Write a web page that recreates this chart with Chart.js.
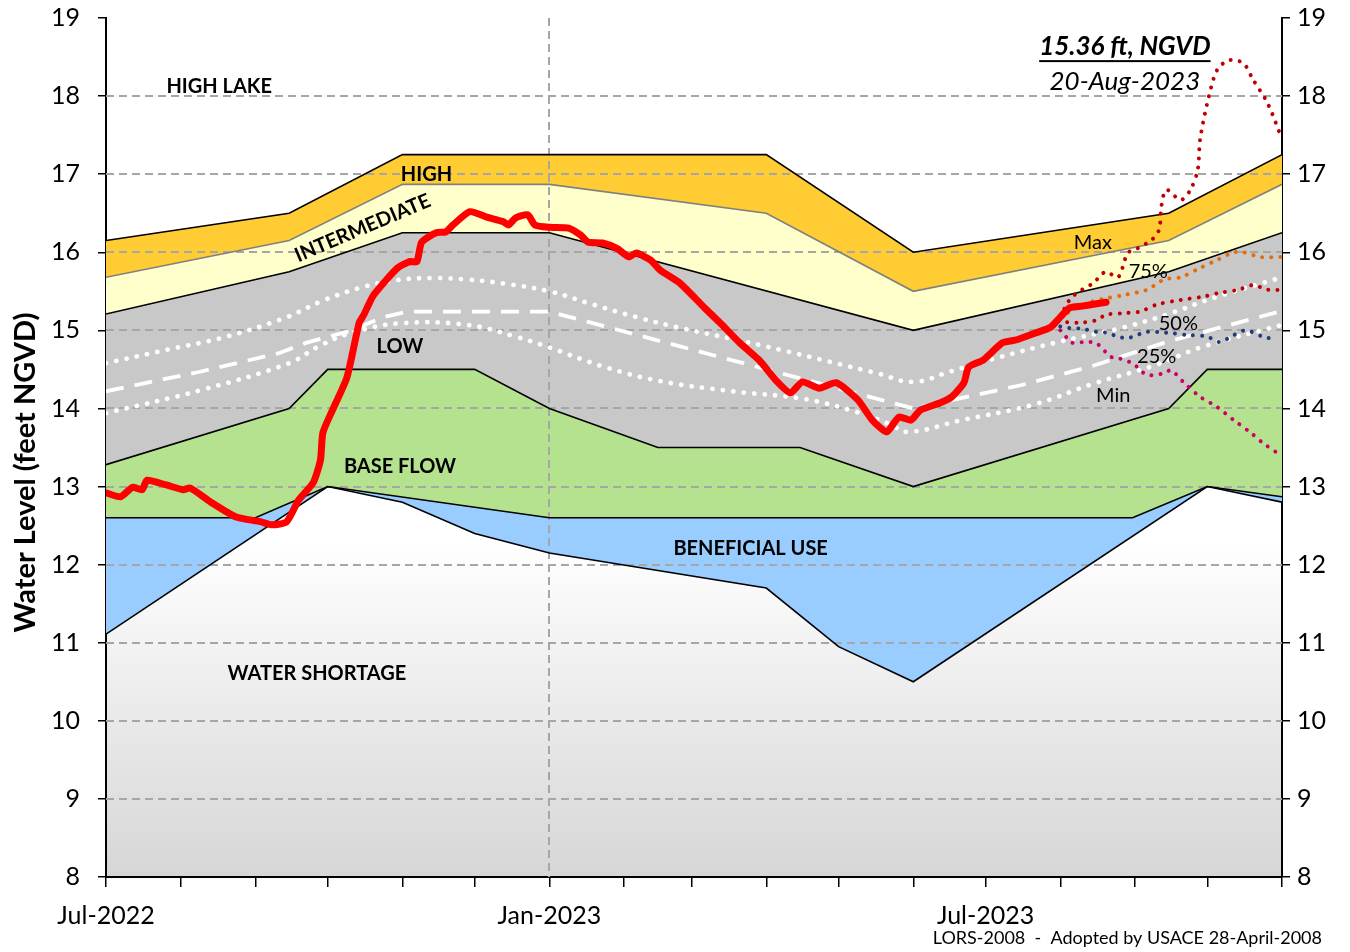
<!DOCTYPE html>
<html>
<head>
<meta charset="utf-8">
<title>Lake Okeechobee Water Level</title>
<script src="https://cdn.jsdelivr.net/npm/chart.js@4.4.0/dist/chart.umd.min.js"></script>
<style>
  html, body { margin: 0; padding: 0; background: #fff; }
  #wrap { width: 1350px; height: 952px; }
</style>
</head>
<body>
<div id="wrap"><canvas id="chart" width="1350" height="952"></canvas></div>
<script>
// x values are days counted from 1-Jul-2022
const monthTicks = [0, 31, 62, 92, 123, 153, 184, 215, 243, 274, 304, 335, 365, 396, 427, 457, 488];
const monthLabels = { 0: 'Jul-2022', 184: 'Jan-2023', 365: 'Jul-2023' };
const levelTicks = [8, 9, 10, 11, 12, 13, 14, 15, 16, 17, 18, 19];

// LORS-2008 zone boundaries (top edge of each zone)
const highTopDays = [0, 76, 123, 274, 335, 441, 488];
const highTopLevels = [16.15, 16.5, 17.25, 17.25, 16.0, 16.5, 17.25];
const intTopDays = [0, 76, 123, 184, 274, 335, 441, 488];
const intTopLevels = [15.68, 16.15, 16.87, 16.87, 16.5, 15.5, 16.15, 16.87];
const lowTopDays = [0, 76, 123, 184, 335, 441, 488];
const lowTopLevels = [15.21, 15.75, 16.25, 16.25, 15.0, 15.75, 16.25];
const baseTopDays = [0, 76, 92, 153, 184, 229, 288, 335, 441, 457, 488];
const baseTopLevels = [13.28, 14.0, 14.5, 14.5, 14.0, 13.5, 13.5, 13.0, 14.0, 14.5, 14.5];
const benTopDays = [0, 62, 92, 184, 426, 457, 488];
const benTopLevels = [12.6, 12.6, 13.0, 12.6, 12.6, 13.0, 12.87];
const shortTopDays = [0, 92, 123, 153, 184, 274, 304, 335, 457, 488];
const shortTopLevels = [11.11, 13.0, 12.8, 12.4, 12.15, 11.7, 10.95, 10.5, 13.0, 12.8];

// historical envelope lines inside the LOW zone
const upperDays = [0, 25, 50, 75, 90, 105, 120, 135, 150, 165, 184, 200, 220, 240, 260, 280, 300, 320, 335, 350, 370, 395, 420, 440, 460, 488];
const upperLevels = [14.58, 14.75, 14.92, 15.17, 15.38, 15.54, 15.64, 15.67, 15.65, 15.6, 15.5, 15.35, 15.17, 15.02, 14.89, 14.75, 14.6, 14.45, 14.34, 14.47, 14.65, 14.85, 15.02, 15.2, 15.42, 15.68];
const middleDays = [0, 39, 72, 83, 102, 115, 125, 184, 335, 380, 410, 440, 488];
const middleLevels = [14.22, 14.47, 14.71, 14.84, 15.0, 15.17, 15.24, 15.24, 14.0, 14.3, 14.55, 14.85, 15.25];
const lowerDays = [0, 40, 76, 88, 102, 122, 150, 170, 184, 207, 230, 260, 290, 312, 325, 333, 355, 385, 410, 435, 455, 488];
const lowerLevels = [13.94, 14.24, 14.58, 14.79, 14.97, 15.09, 15.07, 14.92, 14.78, 14.53, 14.35, 14.22, 14.12, 13.95, 13.8, 13.7, 13.85, 14.05, 14.32, 14.55, 14.79, 15.07];

// observed lake stage
const stageDays = [0, 6, 11, 15, 17, 25, 32, 35, 44, 54, 64, 69, 75, 80, 86, 89, 90, 94, 100, 105, 107, 111, 121, 126, 129, 131, 137, 141, 144, 151, 158, 165, 167, 170, 175, 178, 184, 192, 197, 200, 206, 212, 217, 220, 226, 230, 238, 248, 255, 263, 271, 278, 284, 289, 296, 303, 312, 318, 324, 329, 334, 338, 346, 351, 356, 358, 364, 372, 378, 386, 392, 396, 400, 405, 411, 415];
const stageLevels = [12.92, 12.87, 12.99, 12.96, 13.08, 13.02, 12.96, 12.98, 12.79, 12.61, 12.55, 12.51, 12.55, 12.83, 13.05, 13.34, 13.69, 13.98, 14.4, 15.09, 15.2, 15.45, 15.8, 15.88, 15.88, 16.13, 16.25, 16.26, 16.35, 16.52, 16.45, 16.39, 16.35, 16.44, 16.48, 16.35, 16.32, 16.31, 16.22, 16.13, 16.12, 16.05, 15.94, 15.99, 15.9, 15.77, 15.61, 15.3, 15.09, 14.84, 14.62, 14.36, 14.2, 14.34, 14.26, 14.33, 14.11, 13.85, 13.7, 13.89, 13.85, 13.98, 14.07, 14.15, 14.33, 14.53, 14.62, 14.84, 14.88, 14.97, 15.04, 15.17, 15.29, 15.31, 15.34, 15.36];

// position analysis outlooks
const maxDays = [396, 399, 401, 405, 410, 412, 415, 420, 424, 428, 434, 437, 438, 440, 446, 450, 453, 454, 457, 461, 466, 472, 476, 482, 488];
const maxLevels = [15.17, 15.35, 15.43, 15.52, 15.61, 15.68, 15.75, 15.68, 15.99, 16.05, 16.16, 16.29, 16.6, 16.8, 16.67, 16.8, 17.05, 17.44, 17.91, 18.33, 18.46, 18.42, 18.21, 17.91, 17.45];
const p75Days = [396, 403, 408, 415, 422, 432, 439, 446, 454, 461, 468, 472, 479, 488];
const p75Levels = [15.17, 15.29, 15.36, 15.41, 15.45, 15.52, 15.65, 15.68, 15.8, 15.9, 16.0, 16.0, 15.94, 15.94];
const p50Days = [396, 398, 405, 411, 415, 422, 429, 436, 446, 455, 462, 470, 476, 482, 488];
const p50Levels = [15.17, 15.11, 15.1, 15.13, 15.2, 15.22, 15.24, 15.33, 15.39, 15.43, 15.48, 15.52, 15.58, 15.52, 15.52];
const p25Days = [396, 400, 405, 411, 415, 420, 424, 432, 440, 449, 457, 462, 468, 473, 480, 486];
const p25Levels = [15.05, 15.03, 15.02, 14.98, 14.97, 14.92, 14.9, 14.98, 14.97, 14.94, 14.92, 14.85, 14.94, 15.0, 14.92, 14.88];
const minDays = [396, 398, 399, 401, 406, 411, 413, 415, 417, 420, 422, 426, 432, 439, 442, 447, 454, 461, 468, 475, 480, 486];
const minLevels = [15.0, 14.94, 14.88, 14.84, 14.85, 14.84, 14.77, 14.72, 14.66, 14.65, 14.62, 14.58, 14.43, 14.45, 14.49, 14.34, 14.15, 14.02, 13.85, 13.69, 13.56, 13.43];

function pts(days, levels) {
  return days.map((d, i) => ({ x: d, y: levels[i] }));
}

function zone(label, days, levels, color, edge) {
  return {
    label: label,
    data: pts(days, levels),
    borderColor: edge,
    borderWidth: 1.6,
    backgroundColor: color,
    fill: '+1',
    pointRadius: 0,
    tension: 0,
    order: 10
  };
}

function dotted(label, days, levels, color, width, gap) {
  return {
    label: label,
    data: pts(days, levels),
    borderColor: color,
    borderWidth: width || 4,
    borderDash: [0.01, gap || 9],
    borderCapStyle: 'round',
    fill: false,
    pointRadius: 0,
    tension: 0.3,
    order: 3
  };
}

const datasets = [
  zone('High', highTopDays, highTopLevels, '#FFCC33', '#000000'),
  zone('Intermediate', intTopDays, intTopLevels, '#FFFFCC', '#808080'),
  zone('Low', lowTopDays, lowTopLevels, '#C8C8C8', '#000000'),
  zone('Base Flow', baseTopDays, baseTopLevels, '#B5E28E', '#000000'),
  zone('Beneficial Use', benTopDays, benTopLevels, '#99CCFF', '#000000'),
  {
    label: 'Water Shortage',
    data: pts(shortTopDays, shortTopLevels),
    borderColor: '#000000',
    borderWidth: 1.6,
    fill: false,
    pointRadius: 0,
    tension: 0,
    order: 10
  },
  Object.assign(dotted('Upper', upperDays, upperLevels, '#ffffff', 4.8, 10.5), { order: 5, tension: 0.4 }),
  {
    label: 'Middle',
    data: pts(middleDays, middleLevels),
    borderColor: '#ffffff',
    borderWidth: 3.8,
    borderDash: [18, 11],
    fill: false,
    pointRadius: 0,
    tension: 0,
    order: 5
  },
  Object.assign(dotted('Lower', lowerDays, lowerLevels, '#ffffff', 4.8, 10.5), { order: 5, tension: 0.4 }),
  dotted('Max', maxDays, maxLevels, '#C00000'),
  dotted('75%', p75Days, p75Levels, '#E46C0A'),
  dotted('50%', p50Days, p50Levels, '#C00000'),
  dotted('25%', p25Days, p25Levels, '#1F3D7A'),
  dotted('Min', minDays, minLevels, '#CC0066'),
  {
    label: 'Lake Stage',
    data: pts(stageDays, stageLevels),
    borderColor: '#FF0000',
    borderWidth: 7,
    borderJoinStyle: 'round',
    borderCapStyle: 'round',
    fill: false,
    pointRadius: 0,
    tension: 0.2,
    order: 1
  }
];

// text placed in data coordinates
const zoneTexts = [
  { text: 'HIGH LAKE', day: 47, level: 18.12 },
  { text: 'HIGH', day: 133, level: 16.99 },
  { text: 'INTERMEDIATE', day: 106.5, level: 16.31, angle: -23 },
  { text: 'LOW', day: 122, level: 14.79 },
  { text: 'BASE FLOW', day: 122, level: 13.26 },
  { text: 'BENEFICIAL USE', day: 267.5, level: 12.21 },
  { text: 'WATER SHORTAGE', day: 87.5, level: 10.61 }
];
const outlookTexts = [
  { text: 'Max', day: 409.5, level: 16.12 },
  { text: '75%', day: 432.5, level: 15.75 },
  { text: '50%', day: 445, level: 15.09 },
  { text: '25%', day: 436, level: 14.67 },
  { text: 'Min', day: 418, level: 14.17 }
];

const overlay = {
  id: 'overlay',
  beforeDraw(chart) {
    const { ctx, chartArea: a, scales } = chart;
    const g = ctx.createLinearGradient(0, scales.y.getPixelForValue(12.3), 0, a.bottom);
    g.addColorStop(0, '#ffffff');
    g.addColorStop(1, '#d6d6d6');
    ctx.save();
    ctx.fillStyle = '#ffffff';
    ctx.fillRect(a.left, a.top, a.right - a.left, a.bottom - a.top);
    ctx.fillStyle = g;
    ctx.fillRect(a.left, a.top, a.right - a.left, a.bottom - a.top);
    ctx.restore();
  },
  beforeDatasetsDraw(chart) {
    // dashed grid sits over the zone fills but under the lines
    const { ctx, chartArea: a, scales } = chart;
    ctx.save();
    ctx.strokeStyle = '#a6a6a6';
    ctx.lineWidth = 2;
    ctx.setLineDash([8, 5]);
    levelTicks.slice(1, -1).forEach(v => {
      const y = Math.round(scales.y.getPixelForValue(v));
      ctx.beginPath();
      ctx.moveTo(a.left, y);
      ctx.lineTo(a.right, y);
      ctx.stroke();
    });
    const x = Math.round(scales.x.getPixelForValue(184));
    ctx.beginPath();
    ctx.moveTo(x, a.top);
    ctx.lineTo(x, a.bottom);
    ctx.stroke();
    ctx.restore();
  },
  afterDraw(chart) {
    const { ctx, scales } = chart;
    const xs = scales.x, ys = scales.y;
    ctx.save();
    ctx.fillStyle = '#000';
    ctx.textAlign = 'center';
    ctx.textBaseline = 'middle';
    ctx.font = 'bold 20px Lato';
    zoneTexts.forEach(t => {
      const px = xs.getPixelForValue(t.day), py = ys.getPixelForValue(t.level);
      ctx.save();
      ctx.translate(px, py);
      if (t.angle) ctx.rotate(t.angle * Math.PI / 180);
      ctx.fillText(t.text, 0, 0);
      ctx.restore();
    });
    ctx.font = '20px Lato';
    outlookTexts.forEach(t => {
      ctx.fillText(t.text, xs.getPixelForValue(t.day), ys.getPixelForValue(t.level));
    });

    // axis title, sits a little below the middle of the axis
    ctx.save();
    ctx.translate(26, ys.getPixelForValue(13.18));
    ctx.rotate(-Math.PI / 2);
    ctx.font = 'bold 29px Lato';
    ctx.fillText('Water Level (feet NGVD)', 0, 0);
    ctx.restore();

    // latest reading
    const cx = xs.getPixelForValue(422.8);
    ctx.font = 'italic bold 26px Lato';
    const head = '15.36 ft, NGVD';
    const hy = ys.getPixelForValue(18.64);
    ctx.fillText(head, cx, hy);
    const w = ctx.measureText(head).width;
    ctx.fillRect(cx - w / 2, hy + 14, w, 2);
    ctx.font = 'italic 26px Lato';
    ctx.fillText('20-Aug-2023', cx, ys.getPixelForValue(18.18));

    ctx.font = '18px Lato';
    ctx.textAlign = 'right';
    ctx.fillText('LORS-2008  -  Adopted by USACE 28-April-2008', chart.width - 28, 938);
    ctx.restore();
  }
};

const tickFont = { family: 'Lato', size: 25 };

function fitLevelAxis(width) {
  return s => {
    s.width = width;
    s.paddingTop = 0;
    s.paddingBottom = 0;
  };
}

new Chart(document.getElementById('chart'), {
  type: 'line',
  data: { datasets: datasets },
  options: {
    responsive: false,
    animation: false,
    layout: { padding: { top: 18, left: 0, right: 0, bottom: 0 } },
    plugins: {
      legend: { display: false },
      tooltip: { enabled: false },
      filler: { drawTime: 'beforeDatasetsDraw' }
    },
    scales: {
      x: {
        type: 'linear',
        min: 0,
        max: 488,
        afterBuildTicks: s => { s.ticks = monthTicks.map(v => ({ value: v })); },
        afterFit: s => { s.height = 75; s.paddingLeft = 0; s.paddingRight = 0; },
        ticks: {
          autoSkip: false,
          maxRotation: 0,
          padding: 14,
          color: '#000',
          font: tickFont,
          callback: v => monthLabels[v] || ''
        },
        grid: { drawOnChartArea: false, drawTicks: true, tickLength: 10, color: '#000', lineWidth: 1.5 },
        border: { display: true, color: '#000', width: 2 }
      },
      y: {
        position: 'left',
        min: 8,
        max: 19,
        afterBuildTicks: s => { s.ticks = levelTicks.map(v => ({ value: v })); },
        afterFit: fitLevelAxis(106),
        ticks: { padding: 18, color: '#000', font: tickFont },
        grid: { drawOnChartArea: false, drawTicks: true, tickLength: 8, color: '#000', lineWidth: 1.5 },
        border: { display: true, color: '#000', width: 2 }
      },
      y2: {
        position: 'right',
        min: 8,
        max: 19,
        afterBuildTicks: s => { s.ticks = levelTicks.map(v => ({ value: v })); },
        afterFit: fitLevelAxis(68),
        ticks: { padding: 7, color: '#000', font: tickFont },
        grid: { drawOnChartArea: false, drawTicks: true, tickLength: 8, color: '#000', lineWidth: 1.5 },
        border: { display: true, color: '#000', width: 2 }
      }
    }
  },
  plugins: [overlay]
});
</script>
</body>
</html>
